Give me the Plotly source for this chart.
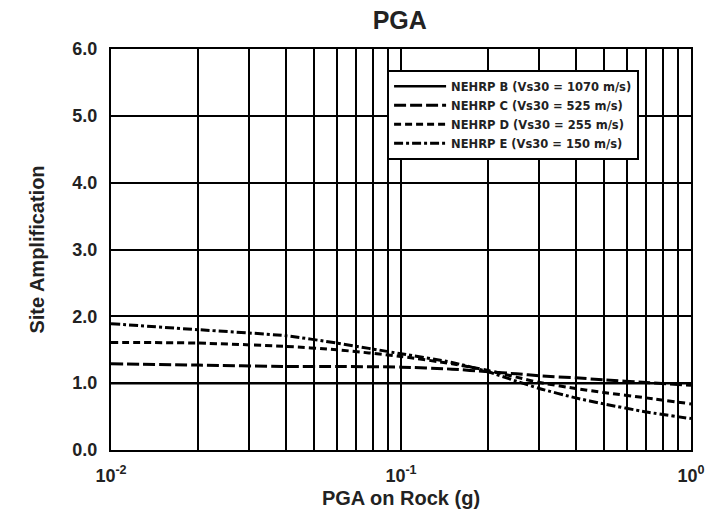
import plotly.graph_objects as go

# Data
pga = [0.01, 0.02, 0.04, 0.06, 0.1, 0.15, 0.2, 0.25, 0.3, 0.4, 0.5, 0.7, 1.0]
amp_B = [1.0] * 13
amp_C = [1.29, 1.27, 1.25, 1.25, 1.24, 1.21, 1.17, 1.14, 1.11, 1.08, 1.05, 1.01, 0.97]
amp_D = [1.61, 1.60, 1.55, 1.50, 1.40, 1.29, 1.19, 1.09, 1.01, 0.92, 0.86, 0.78, 0.69]
amp_E = [1.89, 1.80, 1.71, 1.60, 1.44, 1.31, 1.17, 1.03, 0.92, 0.78, 0.69, 0.57, 0.47]

names = ["NEHRP B (Vs30 = 1070 m/s)", "NEHRP C (Vs30 = 525 m/s)",
         "NEHRP D (Vs30 = 255 m/s)", "NEHRP E (Vs30 = 150 m/s)"]
dashes = ["solid", "12px,4px", "7px,4px", "9px,3px,3px,3px"]
widths = [2.5, 3, 3, 3]
series = [amp_B, amp_C, amp_D, amp_E]

xticks = [m * 10 ** e for e in (-2, -1) for m in range(1, 10)] + [1.0]
xticktext = ["10<sup>-2</sup>" if v == 0.01 else "10<sup>-1</sup>" if v == 0.1 else
             "10<sup>0</sup>" if v == 1.0 else "" for v in xticks]

fig = go.Figure()
for nm, ys, ds, w in zip(names, series, dashes, widths):
    fig.add_trace(go.Scatter(x=pga, y=ys, mode="lines", name=nm,
                             line=dict(color="black", width=w, dash=ds, shape="spline", smoothing=0.6)))

font = dict(family="Liberation Sans, Arial, sans-serif", color="#222")
fig.update_layout(
    width=719, height=513,
    margin=dict(l=111, r=28, t=49, b=63),
    paper_bgcolor="white", plot_bgcolor="white",
    title=dict(text="<b>PGA</b>", x=0.556, xanchor="center", y=0.96, yanchor="middle",
               font=dict(size=25, **font)),
    showlegend=True,
    legend=dict(x=0.476, y=0.948, xanchor="left", yanchor="top",
                bgcolor="white", bordercolor="black", borderwidth=2,
                font=dict(size=11.5, weight="bold", family="DejaVu Sans, sans-serif", color="#222"),
                tracegroupgap=0, itemwidth=52),
    xaxis=dict(type="log", range=[-2, 0], tickvals=xticks, ticktext=xticktext,
               showgrid=True, gridcolor="black", gridwidth=2,
               showline=True, linecolor="black", linewidth=2, mirror=True,
               ticks="", ticklabelstandoff=8, tickfont=dict(size=18, weight="bold", **font),
               title=dict(text="<b>PGA on Rock (g)</b>", font=dict(size=20, **font), standoff=6),
               zeroline=False, automargin=False),
    yaxis=dict(range=[0, 6], dtick=1, tickformat=".1f",
               showgrid=True, gridcolor="black", gridwidth=2,
               showline=True, linecolor="black", linewidth=2, mirror=True,
               ticks="", ticklabelstandoff=8, tickfont=dict(size=18, weight="bold", **font),
               title=dict(text="<b>Site Amplification</b>", font=dict(size=20, **font), standoff=22),
               zeroline=False, automargin=False),
)
fig.write_html("out.html")
